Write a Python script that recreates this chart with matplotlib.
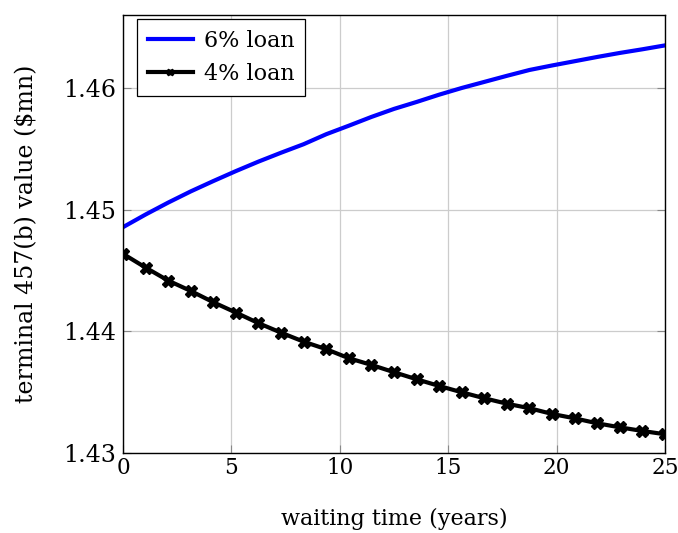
import numpy as np
import matplotlib
matplotlib.use("Agg")
import matplotlib.pyplot as plt

# 25 samples over 0..25 years
years = np.linspace(0, 25, 25)

loan_6pct = [
    1.44856, 1.44960, 1.45058, 1.45150, 1.45235, 1.45317, 1.45395,
    1.45468, 1.45538, 1.45620, 1.45690, 1.45762, 1.45828, 1.45885,
    1.45945, 1.46000, 1.46050, 1.46100, 1.46148, 1.46185, 1.46220,
    1.46255, 1.46288, 1.46318, 1.46350,
]

loan_4pct = [
    1.44637, 1.44524, 1.44417, 1.44332, 1.44239, 1.44154, 1.44067,
    1.43989, 1.43915, 1.43853, 1.43779, 1.43724, 1.43664, 1.43606,
    1.43551, 1.43499, 1.43450, 1.43405, 1.43368, 1.43321, 1.43285,
    1.43244, 1.43211, 1.43181, 1.43154,
]

x_ticks = [0, 5, 10, 15, 20, 25]
y_ticks = [1.43, 1.44, 1.45, 1.46]

plt.rcParams["font.family"] = ["DejaVu Serif"]
plt.rcParams["mathtext.fontset"] = "dejavuserif"

fig = plt.figure(figsize=(6.78, 5.33), dpi=100)
ax = fig.add_axes([0.1814, 0.1501, 0.7994, 0.8218])

ax.plot(years, loan_6pct, color="#0000ff", linewidth=3.0, label="6% loan")
ax.plot(years, loan_4pct, color="black", linewidth=3.0, marker="X",
        markersize=8, label="4% loan")

ax.set_xlim(0, 25)
ax.set_ylim(1.43, 1.466)
ax.set_xticks(x_ticks)
ax.set_yticks(y_ticks)
ax.set_xticklabels([str(t) for t in x_ticks])
ax.set_yticklabels([f"{t:.2f}" for t in y_ticks])

ax.grid(True, color="#cccccc", linewidth=0.9)
ax.set_axisbelow(True)
ax.tick_params(direction="in", length=6, color="#888888",
               top=False, right=True)
ax.tick_params(axis="x", labelsize=15.5, pad=3)
ax.tick_params(axis="y", labelsize=17, pad=5)
for s in ax.spines.values():
    s.set_linewidth(1.0)
    s.set_color("black")

ax.set_xlabel("waiting time (years)", fontsize=16, labelpad=21)
ax.set_ylabel("terminal 457(b) value (\\$mn)", fontsize=17, labelpad=18)

leg = ax.legend(loc="upper left", bbox_to_anchor=(0.026, 0.991),
                borderaxespad=0, fontsize=16, fancybox=False,
                edgecolor="black", framealpha=1, handlelength=2.0,
                labelspacing=0.5, markerscale=0.6,
                handletextpad=0.5, borderpad=0.5)
leg.get_frame().set_linewidth(0.9)

fig.savefig("out.png", dpi=100)
